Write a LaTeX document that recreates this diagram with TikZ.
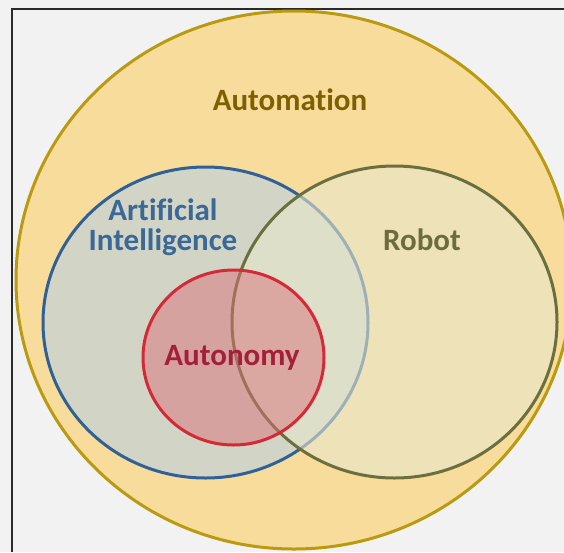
\documentclass[tikz,border=0pt]{standalone}
\usepackage{fontspec}
\setmainfont{Carlito}[Ligatures={NoCommon}]
\definecolor{paper}{HTML}{F2F2F2}
\definecolor{frameline}{HTML}{2A2A2A}
\definecolor{automfill}{HTML}{F8DC9C}
\definecolor{automline}{HTML}{BA9A10}
\definecolor{automtext}{HTML}{7F6000}
\definecolor{aifill}{HTML}{AECFEF}
\definecolor{ailine}{HTML}{2F6096}
\definecolor{aitext}{HTML}{3A6897}
\definecolor{robotfill}{HTML}{E7E6CC}
\definecolor{robotline}{HTML}{6B6F3E}
\definecolor{robottext}{HTML}{6C6C3E}
\definecolor{autofill}{HTML}{D9707A}
\definecolor{autoline}{HTML}{D42A38}
\definecolor{autotext}{HTML}{A3203A}

\begin{document}
\begin{tikzpicture}
	[
		x=1pt, y=-1pt,
		setline/.style = {line width=3pt},
		settext/.style = {font=\fontsize{31}{30}\selectfont\bfseries, align=center, anchor=center}
	]
	
	\useasboundingbox (0,0) rectangle (564,552);
	\fill [paper] (0,0) rectangle (564,552);
	\draw [frameline, line width=1.5pt] (12,552) -- (12,9) -- (564,9);
	
	\begin{scope}
		\clip (0,0) rectangle (564,552);
		\filldraw [setline, draw=automline, fill=automfill] (294,280) ellipse [x radius=278pt, y radius=269pt];
	\end{scope}
	
	\filldraw [setline, draw=ailine, fill=aifill, fill opacity=0.5] (205.5,322.5) ellipse [x radius=162.5pt, y radius=155.5pt];
	\filldraw [setline, draw=robotline, fill=robotfill, fill opacity=0.6] (394.5,322) ellipse [x radius=162.5pt, y radius=156pt];
	\filldraw [setline, draw=autoline, fill=autofill, fill opacity=0.5] (233.5,357.5) ellipse [x radius=90.5pt, y radius=87.5pt];
	
	\node [settext, text=automtext] (automation) at (290,100) {Automation};
	\node [settext, text=aitext] (ai) at (163,227) {Artificial\\Intelligence};
	\node [settext, text=robottext] (robot) at (422,240) {Robot};
	\node [settext, text=autotext] (autonomy) at (232,358) {Autonomy};
	
\end{tikzpicture}
\end{document}
